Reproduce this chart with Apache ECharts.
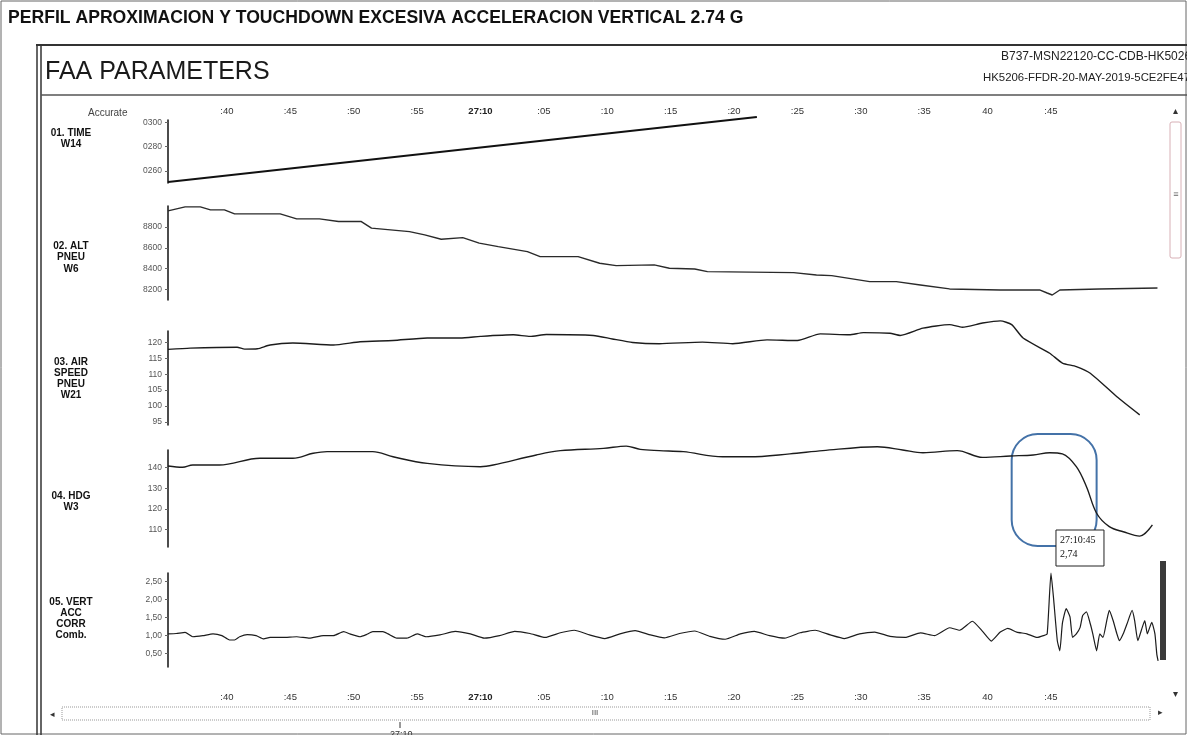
<!DOCTYPE html>
<html><head><meta charset="utf-8">
<script src="https://cdn.jsdelivr.net/npm/echarts@6/dist/echarts.min.js"></script>
<style>html,body{margin:0;padding:0;background:#fff}#c{width:1187px;height:735px}</style>
</head><body><div id="c"></div>
<script>
// ---- time axis (seconds; 60 = "27:10" mark) ----
const timeTickValues = [40,45,50,55,60,65,70,75,80,85,90,95,100,105];
const timeTickLabels = [':40',':45',':50',':55','27:10',':05',':10',':15',':20',':25',':30',':35','40',':45'];

// ---- 01. TIME W14 ----
const timeT = [35.35, 81.8];
const timeV = [250.8, 304.3];
const timeTicks = [260, 280, 300];

// ---- 02. ALT PNEU W6 ----
const altT = [35.35,36.7,37.9,38.7,39.8,40.6,44.2,45.5,47.3,48.8,50.6,51.4,54.4,55.6,56.9,58.6,59.9,61.4,63.7,64.7,67.7,69.4,70.7,73.7,74.9,76.9,77.9,84.7,86.5,87.7,90.7,92.8,94.7,97.0,101.0,104.1,104.7,105.1,105.7,108.8,113.4];
const altV = [8953,8992,8992,8963,8963,8925,8925,8877,8877,8851,8851,8788,8755,8723,8682,8697,8644,8611,8563,8515,8515,8452,8429,8436,8404,8397,8372,8362,8340,8333,8276,8276,8244,8206,8196,8196,8167,8148,8196,8206,8215];
const altTicks = [8200, 8400, 8600, 8800];

// ---- 03. AIR SPEED PNEU W21 ----
const iasT = [35.35,37.1,40.8,41.4,42.4,43.4,45.2,48.4,50.5,53.1,55.8,58.4,60.0,62.6,63.9,65.2,68.9,70.4,72.0,74.1,77.5,79.9,82.6,85.0,86.8,89.1,90.2,92.3,93.1,94.9,97.0,98.0,99.6,101.0,101.9,102.8,104.9,105.9,107.0,108.1,110.2,112.0];
const iasV = [117.8,118.2,118.5,117.9,118.0,119.2,119.8,119.2,120.2,120.6,121.4,121.4,121.9,122.4,121.9,122.5,122.2,121.1,120.0,119.6,120.1,119.6,120.8,120.6,122.7,122.4,123.1,122.9,122.2,124.5,125.6,124.8,126.1,126.8,125.6,121.4,116.6,113.5,112.4,110.3,102.9,97.2];
const iasTicks = [95, 100, 105, 110, 115, 120];

// ---- 04. HDG W3 ----
const hdgT = [35.35,36.5,37.3,39.4,42.6,45.2,46.8,47.9,51.5,53.1,55.8,60.0,61.0,64.4,66.3,69.7,71.5,72.6,74.1,76.0,79.1,81.2,84.4,87.0,91.3,93.3,94.9,97.6,99.6,101.8,103.6,104.9,105.9,107.0,107.8,108.6,109.6,110.7,112.0,113.0];
const hdgV = [140.8,140.2,141.3,141.3,144.6,144.6,147.0,147.8,147.8,145.3,142.1,140.5,141.3,146.2,148.3,149.4,150.5,148.9,148.3,147.8,145.3,145.3,146.7,148.3,150.2,148.6,147.3,148.3,145.0,145.7,146.2,147.3,146.7,140.5,130.8,117.9,111.4,108.9,106.8,112.2];
const hdgTicks = [110, 120, 130, 140];

// ---- 05. VERT ACC CORR Comb. ----
const accT = [35.35,36.0,36.7,37.3,38.1,38.9,39.6,40.2,40.6,41.0,41.6,42.3,42.9,43.4,44.4,45.5,46.5,47.6,48.4,49.2,49.7,50.5,51.0,51.5,52.3,52.7,53.4,54.2,55.0,55.7,
  56.8,58.0,59.2,60.3,61.5,62.7,63.9,65.1,66.3,67.4,68.6,69.8,71.0,72.2,73.4,74.5,75.7,76.9,78.1,79.3,80.5,81.6,82.8,84.0,85.2,86.4,87.6,88.7,89.9,91.1,92.3,93.5,94.7,95.8,
  97.0,97.8,98.8,99.6,100.3,101.0,101.6,102.3,103.1,103.9,104.4,104.7,105.0,105.2,105.5,105.7,105.9,106.2,106.5,106.7,107.0,107.3,107.5,107.8,108.1,108.3,108.6,108.85,109.1,109.4,109.6,109.9,110.2,110.4,110.7,111.0,111.4,111.6,111.85,112.2,112.4,112.6,112.95,113.2,113.35,113.45];
const accV = [1.05,1.06,1.09,0.97,1.0,1.05,1.0,0.88,0.88,0.97,1.03,1.0,0.91,0.95,0.95,0.97,0.93,1.0,1.0,1.11,1.05,0.97,1.03,1.11,1.11,1.05,0.93,0.93,1.05,0.97,
  1.02,1.12,1.05,0.93,1.0,1.12,1.06,0.95,1.08,1.15,1.02,0.92,1.05,1.14,1.02,0.94,1.06,1.13,0.98,0.9,1.05,1.12,1.0,0.93,1.08,1.15,1.02,0.92,1.05,1.1,0.98,0.95,1.08,1.0,
  1.22,1.15,1.4,1.12,0.85,1.1,1.2,1.1,1.05,0.95,1.0,1.05,2.74,2.05,0.86,0.58,1.34,1.75,1.52,0.95,1.05,1.23,1.56,1.66,1.33,1.05,0.58,1.05,0.95,1.42,1.70,1.42,1.05,0.86,1.05,1.33,1.70,1.42,0.86,1.23,1.42,1.05,1.37,1.05,0.48,0.30];
const accTicks = [0.5, 1.0, 1.5, 2.0, 2.5];

// peak annotation
const peakT = 105.0, peakV = 2.74;
const peakLabel = ['27:10:45', '2,74'];

const FONT = '"Liberation Sans", Arial, sans-serif';
const zip = (a, b) => a.map((v, i) => [v, b[i]]);

const grids = [
  {top: 120, height: 63},
  {top: 206, height: 94},
  {top: 331, height: 94},
  {top: 450, height: 97},
  {top: 573, height: 94}
].map(g => Object.assign({left: 168, width: 992}, g));

const yCfg = [
  {min: 250, max: 301.8, ticks: timeTicks, fmt: v => '0' + v},
  {min: 8100, max: 9000, ticks: altTicks, fmt: v => String(v)},
  {min: 94, max: 123.6, ticks: iasTicks, fmt: v => String(v)},
  {min: 101.5, max: 148.6, ticks: hdgTicks, fmt: v => String(v)},
  {min: 0.13, max: 2.74, ticks: accTicks, fmt: v => v.toFixed(2).replace('.', ',')}
];

const timeFmt = v => {
  const i = timeTickValues.findIndex(x => Math.abs(x - v) < 1e-6);
  const s = i >= 0 ? timeTickLabels[i] : '';
  return s === '27:10' ? '{b|27:10}' : s;
};

const xAxes = grids.map((g, i) => {
  const base = {gridIndex: i, type: 'value', min: 35.35, max: 113.6,
    axisLine: {show: false}, axisTick: {show: false}, splitLine: {show: false}};
  if (i === 0 || i === 4) {
    base.position = i === 0 ? 'top' : 'bottom';
    base.axisLabel = {customValues: timeTickValues, formatter: timeFmt,
      margin: i === 0 ? 4 : 25, fontSize: 9.5, color: '#333', fontFamily: FONT,
      rich: {b: {fontWeight: 'bold', fontSize: 9.5, color: '#222', fontFamily: FONT}}};
  } else {
    base.axisLabel = {show: false};
  }
  return base;
});

const yAxes = yCfg.map((c, i) => ({
  gridIndex: i, type: 'value', min: c.min, max: c.max,
  axisLine: {show: true, lineStyle: {color: '#111', width: 1.5}},
  axisTick: {show: true, length: 3, customValues: c.ticks, lineStyle: {color: '#666'}},
  axisLabel: {customValues: c.ticks, formatter: c.fmt, fontSize: 8.5, color: '#555', margin: 6, fontFamily: FONT},
  splitLine: {show: false}
}));

const mk = (i, t, v, extra) => Object.assign({
  type: 'line', xAxisIndex: i, yAxisIndex: i, data: zip(t, v),
  symbol: 'none', clip: false, animation: false,
  lineStyle: {color: '#1c1c1c', width: 1.4}
}, extra || {});

const series = [
  mk(0, timeT, timeV, {lineStyle: {color: '#111', width: 2}}),
  mk(1, altT, altV, {lineStyle: {color: '#2a2a2a', width: 1.4}}),
  mk(2, iasT, iasV, {smooth: 0.2}),
  mk(3, hdgT, hdgV, {smooth: 0.35}),
  mk(4, accT, accV, {smooth: 0.15, lineStyle: {color: '#1c1c1c', width: 1.2}})
];

const chart = echarts.init(document.getElementById('c'), null, {renderer: 'canvas'});
chart.setOption({animation: false, backgroundColor: '#fff', grid: grids, xAxis: xAxes, yAxis: yAxes, series});

// decorations
const P = chart.convertToPixel({gridIndex: 4}, [peakT, peakV]);
const blueL = chart.convertToPixel({gridIndex: 3}, [101.9, 140])[0];
const blueR = chart.convertToPixel({gridIndex: 3}, [108.6, 140])[0];

let gid = 0;
const T = (x, y, text, font, fill, align, extra) => Object.assign({
  id: 'g' + (gid++), type: 'text', x, y, silent: true,
  style: Object.assign({text, font, fill: fill || '#111', align: align || 'left', textAlign: align || 'left', verticalAlign: 'middle', textVerticalAlign: 'middle'}, (extra || {}))
});
const L = (x1, y1, x2, y2, w, c) => ({id: 'g' + (gid++), type: 'line', silent: true,
  shape: {x1, y1, x2, y2}, style: {stroke: c || '#333', lineWidth: w || 1}});
const R = (x, y, w, h, style, r) => ({id: 'g' + (gid++), type: 'rect', silent: true,
  shape: {x, y, width: w, height: h, r: r || 0}, style});

const lab = 'bold 10px ' + FONT;
const graphic = [
  R(1, 1, 1185, 733, {fill: 'none', stroke: '#666', lineWidth: 1}),
  T(8, 18, 'PERFIL APROXIMACION Y TOUCHDOWN EXCESIVA ACCELERACION VERTICAL 2.74 G', 'bold 17.6px ' + FONT, '#111'),
  L(36, 45, 1187, 45, 2, '#333'),
  L(37, 45, 37, 735, 1.5, '#333'),
  L(41, 45, 41, 735, 1.5, '#333'),
  T(45, 72, 'FAA PARAMETERS', '25px ' + FONT, '#1a1a1a'),
  T(1001, 57, 'B737-MSN22120-CC-CDB-HK5026', '12px ' + FONT, '#222'),
  T(983, 78, 'HK5206-FFDR-20-MAY-2019-5CE2FE47', '11.4px ' + FONT, '#222'),
  L(41, 95, 1187, 95, 1.5, '#555'),
  T(88, 113, 'Accurate', '10px ' + FONT, '#444'),
  T(71, 128, '01. TIME\nW14', lab, '#111', 'center', {lineHeight: 11, verticalAlign: 'top', textVerticalAlign: 'top'}),
  T(71, 240, '02. ALT\nPNEU\nW6', lab, '#111', 'center', {lineHeight: 11.5, verticalAlign: 'top', textVerticalAlign: 'top'}),
  T(71, 357, '03. AIR\nSPEED\nPNEU\nW21', lab, '#111', 'center', {lineHeight: 11, verticalAlign: 'top', textVerticalAlign: 'top'}),
  T(71, 490, '04. HDG\nW3', lab, '#111', 'center', {lineHeight: 11.5, verticalAlign: 'top', textVerticalAlign: 'top'}),
  T(71, 597, '05. VERT\nACC\nCORR\nComb.', lab, '#111', 'center', {lineHeight: 11, verticalAlign: 'top', textVerticalAlign: 'top'}),
  // right scroll column
  T(1175, 111, '\u25B4', '10px ' + FONT, '#333', 'center'),
  R(1170, 122, 11, 136, {fill: 'none', stroke: '#d8b0b6', lineWidth: 1}, 2),
  T(1176, 195, '\u2261', '9px ' + FONT, '#666', 'center'),
  T(1175, 694, '\u25BE', '10px ' + FONT, '#333', 'center'),
  // bottom scroll bar
  T(52, 715, '\u25C2', '9px ' + FONT, '#333', 'center'),
  R(62, 707, 1088, 13, {fill: 'none', stroke: '#999', lineWidth: 1, lineDash: [1, 1]}),
  T(595, 713, 'III', '8px ' + FONT, '#444', 'center'),
  T(1160, 713, '\u25B8', '9px ' + FONT, '#333', 'center'),
  L(400, 722, 400, 728, 1, '#333'),
  T(390, 735, '27:10', '9px ' + FONT, '#333'),
  // end marker bar in panel 05
  R(1160, 561, 6, 99, {fill: '#3a3a3a'}),
  // highlight & value box
  R(blueL, 434, blueR - blueL, 112, {fill: 'none', stroke: '#4472a8', lineWidth: 2}, 26),
  R(P[0] + 5, P[1] - 43, 48, 36, {fill: '#fff', stroke: '#222', lineWidth: 1}),
  T(P[0] + 9, P[1] - 33, peakLabel[0], '10px "Liberation Serif", serif', '#111'),
  T(P[0] + 9, P[1] - 19, peakLabel[1], '10px "Liberation Serif", serif', '#111')
];
chart.setOption({graphic});
</script>
</body></html>
